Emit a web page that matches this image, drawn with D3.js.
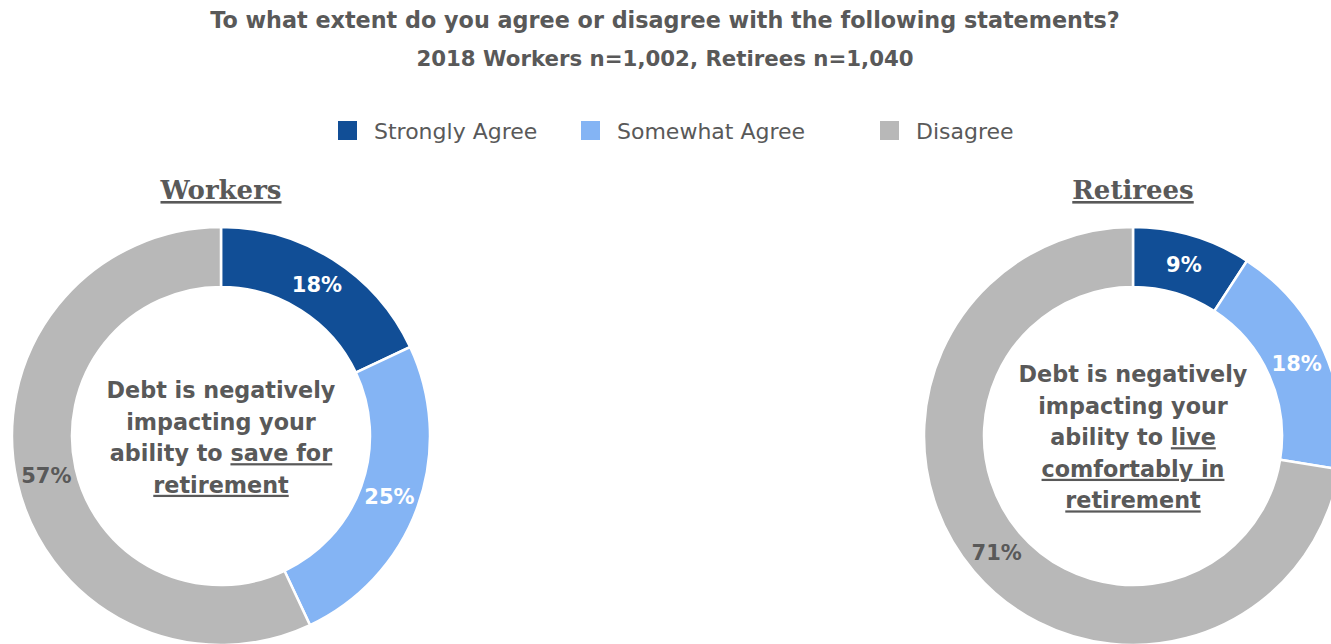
<!DOCTYPE html>
<html>
<head>
<meta charset="utf-8">
<script src="https://cdn.jsdelivr.net/npm/d3@7"></script>
<style>
  html, body { margin: 0; padding: 0; background: #fff; }
  svg { display: block; }
</style>
</head>
<body>
<svg id="chart" width="1331" height="644" font-family="'DejaVu Sans', sans-serif"></svg>
<script>
// Response categories and their colours
const categories = ["Strongly Agree", "Somewhat Agree", "Disagree"];
const colors = ["#114E96", "#84B4F4", "#B8B8B8"];
const labelColors = ["#ffffff", "#ffffff", "#595959"];

// Shares (%) for each group
const workersValues = [18, 25, 57];
const retireesValues = [9, 18, 71];

// Titles
const titleLines = [
  "To what extent do you agree or disagree with the following statements?",
  "2018 Workers n=1,002, Retirees n=1,040"
];
const titleSizes = [22.3, 21.3];

// Centre statements: each line is a list of [text, underlined] runs
const workersStatement = [
  [["Debt is negatively", false]],
  [["impacting your", false]],
  [["ability to ", false], ["save for", true]],
  [["retirement", true]]
];
const retireesStatement = [
  [["Debt is negatively", false]],
  [["impacting your", false]],
  [["ability to ", false], ["live", true]],
  [["comfortably in", true]],
  [["retirement", true]]
];

const groups = [
  { name: "Workers", values: workersValues, statement: workersStatement, cx: 221, cy: 436, firstLineY: 390 },
  { name: "Retirees", values: retireesValues, statement: retireesStatement, cx: 1133, cy: 436, firstLineY: 374 }
];

const svg = d3.select("#chart");
const textGray = "#595959";

// Title
svg.append("g").selectAll("text")
  .data(titleLines)
  .join("text")
  .attr("x", 665)
  .attr("y", (d, i) => 28 + i * 38)
  .attr("text-anchor", "middle")
  .attr("font-size", (d, i) => titleSizes[i])
  .attr("font-weight", "bold")
  .attr("fill", textGray)
  .text(d => d);

// Legend
const legendX = [338, 581, 880];
const legend = svg.append("g").selectAll("g")
  .data(categories)
  .join("g")
  .attr("transform", (d, i) => `translate(${legendX[i]},121)`);
legend.append("rect")
  .attr("width", 19).attr("height", 19)
  .attr("fill", (d, i) => colors[i]);
legend.append("text")
  .attr("x", 36).attr("y", 18)
  .attr("font-size", 22)
  .attr("fill", textGray)
  .text(d => d);

const outerR = 209, innerR = 149;
const pie = d3.pie().sort(null).value(d => d);
const arc = d3.arc().innerRadius(innerR).outerRadius(outerR);
const labelArc = d3.arc().innerRadius((innerR + outerR) / 2).outerRadius((innerR + outerR) / 2);

groups.forEach(g => {
  // Group heading, underlined
  svg.append("text")
    .attr("x", g.cx).attr("y", 199)
    .attr("text-anchor", "middle")
    .attr("font-family", "'DejaVu Serif', serif")
    .attr("font-size", 26)
    .attr("font-weight", "bold")
    .attr("fill", textGray)
    .attr("text-decoration", "underline")
    .text(g.name);

  const donut = svg.append("g").attr("transform", `translate(${g.cx},${g.cy})`);
  const arcs = pie(g.values);

  donut.selectAll("path")
    .data(arcs)
    .join("path")
    .attr("d", arc)
    .attr("fill", (d, i) => colors[i])
    .attr("stroke", "#fff")
    .attr("stroke-width", 2.5);

  donut.selectAll("text.val")
    .data(arcs)
    .join("text")
    .attr("class", "val")
    .attr("transform", d => `translate(${labelArc.centroid(d)})`)
    .attr("text-anchor", "middle")
    .attr("dy", "0.36em")
    .attr("font-size", 21)
    .attr("font-weight", "bold")
    .attr("fill", (d, i) => labelColors[i])
    .text(d => d.data + "%");

  // Centre statement
  const st = svg.append("text")
    .attr("text-anchor", "middle")
    .attr("font-size", 22.3)
    .attr("font-weight", "bold")
    .attr("fill", textGray);
  g.statement.forEach((line, li) => {
    const t = st.append("tspan")
      .attr("x", g.cx)
      .attr("y", g.firstLineY + 8 + li * 31.6);
    line.forEach(([txt, ul], k) => {
      (k === 0 ? t : st.append("tspan"))
        .text(txt)
        .attr("text-decoration", ul ? "underline" : null)
        .style("white-space", "pre");
    });
  });
});
</script>
</body>
</html>
